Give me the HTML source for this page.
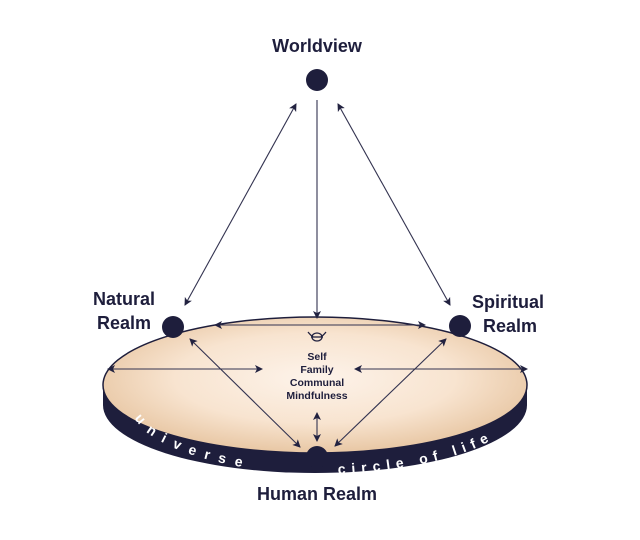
<!DOCTYPE html>
<html><head><style>body{margin:0;background:#fff}svg{display:block}</style></head><body>
<svg width="640" height="540" xmlns="http://www.w3.org/2000/svg" font-family="Liberation Sans, sans-serif">
<defs>
<radialGradient id="g" cx="50%" cy="45%" r="55%">
<stop offset="0" stop-color="#fdf3ea"/><stop offset="0.6" stop-color="#f8e4d0"/><stop offset="1" stop-color="#e8c7a4"/>
</radialGradient>
<marker id="a" markerWidth="8" markerHeight="8" refX="7" refY="4" orient="auto-start-reverse" markerUnits="userSpaceOnUse">
<path d="M0,0 L8,4 L0,8 L2,4 z" fill="#222240"/></marker>
<path id="lp" d="M135,418 A212,68 0 0 0 300,474"/>
<path id="rp" d="M338,474 A212,68 0 0 0 518,412"/>
</defs>
<ellipse cx="315" cy="405" rx="212" ry="68" fill="#1e1e3c"/>
<rect x="103" y="385" width="424" height="20" fill="#1e1e3c"/>
<ellipse cx="315" cy="385" rx="212" ry="68" fill="url(#g)" stroke="#1e1e3c" stroke-width="1.5"/>
<text font-size="14" font-weight="bold" fill="#fff" letter-spacing="9"><textPath href="#lp">universe</textPath></text>
<text font-size="14" font-weight="bold" fill="#fff" letter-spacing="6"><textPath href="#rp">circle of life</textPath></text>
<g stroke="#333350" stroke-width="1.1" fill="none" marker-start="url(#a)" marker-end="url(#a)">
<line x1="296" y1="104" x2="185" y2="305"/>
<line x1="338" y1="104" x2="450" y2="305"/>
<line x1="317" y1="100" x2="317" y2="318" marker-start="none"/>
<line x1="215" y1="325" x2="425" y2="325"/>
<line x1="108" y1="369" x2="262" y2="369"/>
<line x1="355" y1="369" x2="527" y2="369"/>
<line x1="190" y1="339" x2="300" y2="447"/>
<line x1="446" y1="339" x2="335" y2="446"/>
<line x1="317" y1="413" x2="317" y2="441"/>
</g>
<g stroke="#222240" stroke-width="1.3" fill="none">
<ellipse cx="317" cy="337" rx="5" ry="4"/><line x1="311" y1="337" x2="323" y2="337"/>
<path d="M308,332 Q312,337 313,336 M326,332 Q322,337 321,336"/>
</g>
<g fill="#1e1e3c">
<circle cx="317" cy="80" r="11"/><circle cx="173" cy="327" r="11"/><circle cx="460" cy="326" r="11"/><circle cx="317" cy="457" r="11"/>
</g>
<g font-weight="bold" fill="#1e1e3c" text-anchor="middle">
<text x="317" y="52" font-size="18">Worldview</text>
<text x="124" y="305" font-size="18">Natural</text>
<text x="124" y="329" font-size="18">Realm</text>
<text x="508" y="308" font-size="18">Spiritual</text>
<text x="510" y="332" font-size="18">Realm</text>
<text x="317" y="500" font-size="18">Human Realm</text>
<g font-size="10.5"><text x="317" y="360">Self</text><text x="317" y="373">Family</text><text x="317" y="386">Communal</text><text x="317" y="399">Mindfulness</text></g>
</g>
</svg>
</body></html>
